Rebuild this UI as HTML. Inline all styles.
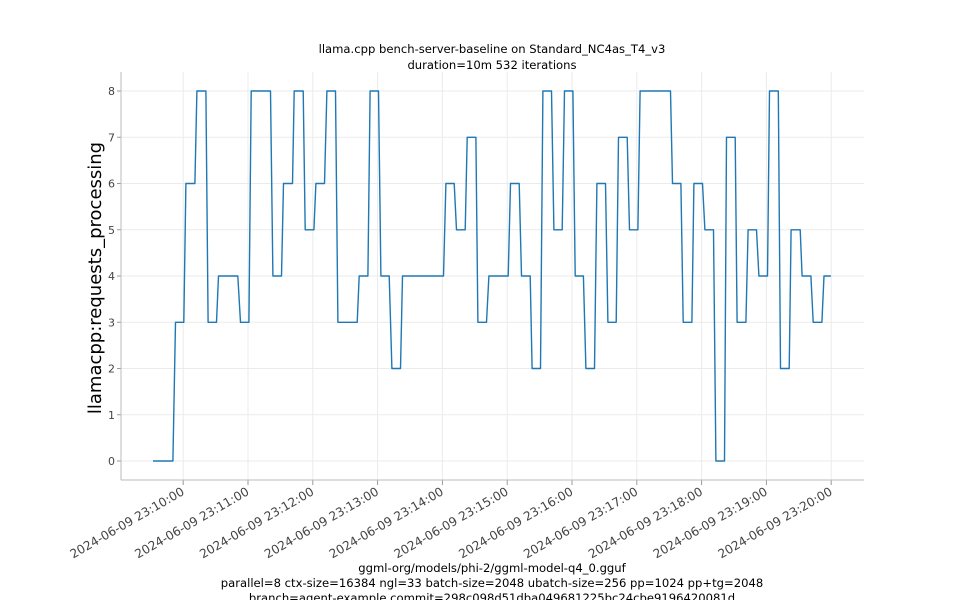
<!DOCTYPE html>
<html><head><meta charset="utf-8"><style>
html,body{margin:0;padding:0;background:#fff}
svg text{font-family:"DejaVu Sans","Liberation Sans",sans-serif}
</style></head><body>
<svg id="chart" width="960" height="600" viewBox="0 0 960 600" xmlns="http://www.w3.org/2000/svg">
<text x="492" y="53" font-size="11.6" text-anchor="middle" fill="#000">llama.cpp bench-server-baseline on Standard_NC4as_T4_v3</text>
<text x="492" y="69" font-size="11.6" text-anchor="middle" fill="#000">duration=10m 532 iterations</text>
<g id="grid"></g>
<g id="axes"></g>
<g id="series"></g>
<text transform="translate(101,278) rotate(-90)" font-size="18" text-anchor="middle" fill="#000">llamacpp:requests_processing</text>
<text x="492" y="572" font-size="11.6" text-anchor="middle" fill="#000">ggml-org/models/phi-2/ggml-model-q4_0.gguf</text>
<text x="492" y="587" font-size="11.6" text-anchor="middle" fill="#000">parallel=8 ctx-size=16384 ngl=33 batch-size=2048 ubatch-size=256 pp=1024 pp+tg=2048</text>
<text x="492" y="602" font-size="11.6" text-anchor="middle" fill="#000">branch=agent-example commit=298c098d51dba049681225bc24cbe9196420081d</text>
</svg>
<script>
const times=[-28,-9.5,-7.1,0.6,2.5,10.8,12.7,21,23.1,30.8,32.7,50.6,53.1,60.8,63,80.8,83.1,91,92.9,101.2,102.8,111.1,113,121,122.9,130.8,133.1,141,143.2,161.1,163,171,173.1,180.8,183.1,190.7,193.2,201.2,203.1,241,243.2,250.9,253.1,261.1,263,271,272.9,280.8,283.1,300.9,303.1,311.1,313.2,321.3,323.1,330.8,333.1,341,343.2,350.9,353.1,360.8,363,370.6,372.9,380.8,383.1,391,393.2,400.9,403.1,411.1,413.2,421,423.1,451.2,453.1,460.8,463,471,472.9,480.8,483.1,491,493.2,501.2,503.1,511.1,512.9,521,523.1,530.8,533.1,541,542.9,551,553.1,561.1,562.9,571.3,573.1,581.2,583.3,591.4,593.3,599.7];
const values=[0,0,3,3,6,6,8,8,3,3,4,4,3,3,8,8,4,4,6,6,8,8,5,5,6,6,8,8,3,3,4,4,8,8,4,4,2,2,4,4,6,6,5,5,7,7,3,3,4,4,6,6,4,4,2,2,8,8,5,5,8,8,4,4,2,2,6,6,3,3,7,7,5,5,8,8,6,6,3,3,6,6,5,5,0,0,7,7,3,3,5,5,4,4,8,8,2,2,5,5,4,4,3,3,4,4];
const yTicks=[0,1,2,3,4,5,6,7,8];
const xTickMinutes=[0,1,2,3,4,5,6,7,8,9,10];
const xTickLabels=["2024-06-09 23:10:00","2024-06-09 23:11:00","2024-06-09 23:12:00","2024-06-09 23:13:00","2024-06-09 23:14:00","2024-06-09 23:15:00","2024-06-09 23:16:00","2024-06-09 23:17:00","2024-06-09 23:18:00","2024-06-09 23:19:00","2024-06-09 23:20:00"];

const NS="http://www.w3.org/2000/svg";
const L=121,R=864,T=72,B=480;
const xS=t=>183.2+t*(64.8/60);
const yS=v=>461-v*46.25;
function mk(tag,parent,attrs){const e=document.createElementNS(NS,tag);for(const k in attrs)e.setAttribute(k,attrs[k]);parent.appendChild(e);return e;}
const grid=document.getElementById('grid'),axes=document.getElementById('axes'),series=document.getElementById('series');
yTicks.forEach(v=>{
  const y=yS(v);
  const g=mk('line',grid,{x1:L,x2:R,y1:y,y2:y,stroke:'#ebebeb','stroke-width':1});
  
  
  const tk=mk('line',axes,{x1:L-4,x2:L,y1:y,y2:y,stroke:'#999','stroke-width':1});
  
  
  const t=mk('text',axes,{x:L-6,y:y+4,'font-size':11,'text-anchor':'end',fill:'#444'});
  t.textContent=String(v);
  
  
});
xTickMinutes.forEach((m,i)=>{
  const x=xS(m*60);
  const g=mk('line',grid,{x1:x,x2:x,y1:T,y2:B,stroke:'#ebebeb','stroke-width':1});
  
  
  const tk=mk('line',axes,{x1:x,x2:x,y1:B,y2:B+5,stroke:'#999','stroke-width':1});
  
  
  const t=mk('text',axes,{x:x+2,y:B+14,'font-size':12.2,'text-anchor':'end',fill:'#444',transform:`rotate(-30 ${x+2} ${B+14})`});
  t.textContent=xTickLabels[i];
  
  
});
const sl=mk('line',axes,{x1:L,x2:L,y1:T,y2:B,stroke:'#bbb','stroke-width':1});


const sb=mk('line',axes,{x1:L,x2:R,y1:B,y2:B,stroke:'#bbb','stroke-width':1});


const d=times.map((t,i)=>(i?'L':'M')+xS(t).toFixed(1)+' '+yS(values[i]).toFixed(1)).join(' ');
const p=mk('path',series,{d:d,fill:'none',stroke:'#1f77b4','stroke-width':1.4,'stroke-linejoin':'round'});


</script>
</body></html>
